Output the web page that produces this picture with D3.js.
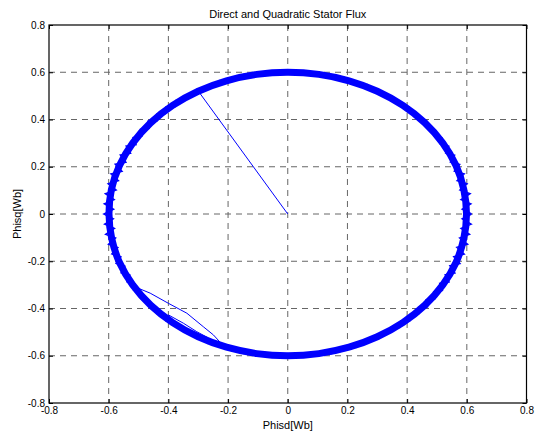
<!DOCTYPE html>
<html>
<head>
<meta charset="utf-8">
<script src="https://cdn.jsdelivr.net/npm/d3@7"></script>
<style>
  body { margin: 0; background: #fff; }
  text { font-family: "Liberation Sans", Arial, sans-serif; fill: #000; }
</style>
</head>
<body>
<div id="chart"></div>
<script>
// tick values and labels (both axes are the same)
var tickValues = [-0.8, -0.6, -0.4, -0.2, 0, 0.2, 0.4, 0.6, 0.8];
var tickLabels = ["-0.8", "-0.6", "-0.4", "-0.2", "0", "0.2", "0.4", "0.6", "0.8"];

// start of the flux: straight line from origin to the ring
var startLine = [[0, 0], [-0.295, 0.512]];

// mean flux ring, polar samples: angle (deg) and magnitude (Wb)
var baseAngle = [0, 10, 20, 30, 40, 50, 60, 70, 80, 90, 100, 110, 120, 130, 140, 150, 160, 170,
  180, 190, 200, 210, 220, 230, 240, 250, 260, 270, 280, 290, 300, 310, 320, 330, 340, 350];
var baseRadius = [0.599, 0.599, 0.600, 0.600, 0.600, 0.600, 0.600, 0.600, 0.600, 0.600, 0.600, 0.600, 0.600, 0.600, 0.600, 0.600, 0.600, 0.600,
  0.599, 0.599, 0.600, 0.600, 0.600, 0.600, 0.600, 0.600, 0.600, 0.600, 0.600, 0.600, 0.600, 0.600, 0.600, 0.600, 0.600, 0.599];

// hysteresis ripple of the flux, polar samples every 2 deg
var zigAngle = [0, 2, 4, 6, 8, 10, 12, 14, 16, 18, 20, 22, 24, 26, 28,
  30, 32, 34, 36, 38, 40, 42, 44, 46, 48, 50, 52, 54, 56, 58,
  60, 62, 64, 66, 68, 70, 72, 74, 76, 78, 80, 82, 84, 86, 88,
  90, 92, 94, 96, 98, 100, 102, 104, 106, 108, 110, 112, 114, 116, 118,
  120, 122, 124, 126, 128, 130, 132, 134, 136, 138, 140, 142, 144, 146, 148,
  150, 152, 154, 156, 158, 160, 162, 164, 166, 168, 170, 172, 174, 176, 178,
  180, 182, 184, 186, 188, 190, 192, 194, 196, 198, 200, 202, 204, 206, 208,
  210, 212, 214, 216, 218, 220, 222, 224, 226, 228, 230, 232, 234, 236, 238,
  240, 242, 244, 246, 248, 250, 252, 254, 256, 258, 260, 262, 264, 266, 268,
  270, 272, 274, 276, 278, 280, 282, 284, 286, 288, 290, 292, 294, 296, 298,
  300, 302, 304, 306, 308, 310, 312, 314, 316, 318, 320, 322, 324, 326, 328,
  330, 332, 334, 336, 338, 340, 342, 344, 346, 348, 350, 352, 354, 356, 358, 360];
var zigRadius = [0.616, 0.585, 0.615, 0.584, 0.617, 0.586, 0.614, 0.585, 0.615, 0.587, 0.613, 0.588, 0.612, 0.589, 0.611,
  0.591, 0.609, 0.592, 0.608, 0.591, 0.609, 0.592, 0.608, 0.593, 0.609, 0.592, 0.608, 0.591, 0.609, 0.592,
  0.608, 0.593, 0.609, 0.592, 0.608, 0.591, 0.609, 0.593, 0.608, 0.592, 0.609, 0.591, 0.608, 0.592, 0.609,
  0.591, 0.608, 0.592, 0.609, 0.593, 0.608, 0.591, 0.609, 0.592, 0.608, 0.593, 0.609, 0.592, 0.608, 0.591,
  0.609, 0.592, 0.608, 0.591, 0.609, 0.590, 0.610, 0.591, 0.609, 0.590, 0.611, 0.589, 0.610, 0.590, 0.611,
  0.587, 0.613, 0.586, 0.614, 0.585, 0.615, 0.584, 0.616, 0.585, 0.615, 0.584, 0.617, 0.585, 0.616, 0.584,
  0.616, 0.585, 0.615, 0.584, 0.616, 0.586, 0.614, 0.587, 0.613, 0.588, 0.612, 0.589, 0.611, 0.589, 0.610,
  0.591, 0.609, 0.592, 0.608, 0.593, 0.607, 0.592, 0.608, 0.593, 0.609, 0.592, 0.608, 0.591, 0.609, 0.592,
  0.608, 0.593, 0.609, 0.592, 0.608, 0.591, 0.609, 0.593, 0.608, 0.592, 0.609, 0.591, 0.608, 0.592, 0.609,
  0.591, 0.608, 0.592, 0.609, 0.593, 0.608, 0.591, 0.609, 0.592, 0.608, 0.593, 0.609, 0.592, 0.608, 0.591,
  0.609, 0.592, 0.608, 0.591, 0.609, 0.590, 0.610, 0.591, 0.609, 0.590, 0.611, 0.589, 0.610, 0.590, 0.611,
  0.588, 0.612, 0.587, 0.613, 0.586, 0.614, 0.585, 0.615, 0.584, 0.616, 0.585, 0.615, 0.584, 0.616, 0.585, 0.616];

// transient loops in the lower left
var transA = [[-0.528, -0.300], [-0.461, -0.335], [-0.400, -0.378], [-0.338, -0.420], [-0.283, -0.477], [-0.249, -0.512], [-0.225, -0.545]];
var transB = [[-0.528, -0.304], [-0.490, -0.352], [-0.450, -0.403]];
var transC = [[-0.400, -0.427], [-0.350, -0.462], [-0.305, -0.498], [-0.270, -0.522]];

var width = 535;
var height = 434;

var svg = d3.select("#chart")
  .append("svg")
  .attr("width", width)
  .attr("height", height);

var x = d3.scaleLinear().domain([-0.8, 0.8]).range([49, 526.5]);
var y = d3.scaleLinear().domain([-0.8, 0.8]).range([403, 25]);

//----- grid -----
var grid = svg.append("g")
  .attr("stroke", "#666")
  .attr("stroke-width", 1)
  .attr("stroke-dasharray", "6,5");

grid.selectAll(".gx")
  .data(tickValues.slice(1, -1))
  .enter().append("line")
  .attr("x1", function(d) { return x(d); })
  .attr("x2", function(d) { return x(d); })
  .attr("y1", y(0.8))
  .attr("y2", y(-0.8));

grid.selectAll(".gy")
  .data(tickValues.slice(1, -1))
  .enter().append("line")
  .attr("x1", x(-0.8))
  .attr("x2", x(0.8))
  .attr("y1", function(d) { return y(d); })
  .attr("y2", function(d) { return y(d); });

//----- data -----
var line = d3.line()
  .x(function(d) { return x(d[0]); })
  .y(function(d) { return y(d[1]); });

function polar(angles, radii) {
  return angles.map(function(a, i) {
    var t = a * Math.PI / 180;
    return [radii[i] * Math.cos(t), radii[i] * Math.sin(t)];
  });
}

// thick mean band
svg.append("path")
  .attr("d", line.curve(d3.curveCardinalClosed)(polar(baseAngle, baseRadius)))
  .attr("fill", "none")
  .attr("stroke", "#0000ff")
  .attr("stroke-width", 7);
line.curve(d3.curveLinear);

// ripple on top of it
svg.append("path")
  .attr("d", line(polar(zigAngle, zigRadius)))
  .attr("fill", "none")
  .attr("stroke", "#0000ff")
  .attr("stroke-width", 1.5);

[startLine, transA, transB, transC].forEach(function(p) {
  svg.append("path")
    .attr("d", line(p))
    .attr("fill", "none")
    .attr("stroke", "#0000ff")
    .attr("stroke-width", 1);
});

//----- axes (ticks inward like matlab) -----
function fmt(d) { return tickLabels[tickValues.indexOf(d)]; }

svg.append("g")
  .attr("transform", "translate(0," + y(-0.8) + ")")
  .call(d3.axisBottom(x).tickValues(tickValues).tickFormat(fmt).tickSize(-4).tickPadding(4));

svg.append("g")
  .attr("transform", "translate(" + x(-0.8) + ",0)")
  .call(d3.axisLeft(y).tickValues(tickValues).tickFormat(fmt).tickSize(-4).tickPadding(4));

svg.append("g")
  .attr("transform", "translate(0," + y(0.8) + ")")
  .call(d3.axisTop(x).tickValues(tickValues).tickFormat("").tickSize(-4));

svg.append("g")
  .attr("transform", "translate(" + x(0.8) + ",0)")
  .call(d3.axisRight(y).tickValues(tickValues).tickFormat("").tickSize(-4));

svg.selectAll(".domain").remove();
svg.selectAll(".tick text")
  .style("font-family", "Liberation Sans, Arial, sans-serif")
  .style("font-size", "10px")
  .attr("fill", "#000");
svg.selectAll(".tick line").attr("stroke", "#000");

// frame
svg.append("rect")
  .attr("x", x(-0.8))
  .attr("y", y(0.8))
  .attr("width", x(0.8) - x(-0.8))
  .attr("height", y(-0.8) - y(0.8))
  .attr("fill", "none")
  .attr("stroke", "#000")
  .attr("stroke-width", 1.2);

//----- labels -----
svg.append("text")
  .attr("x", x(0))
  .attr("y", 18)
  .attr("text-anchor", "middle")
  .style("font-size", "11px")
  .text("Direct and Quadratic Stator Flux");

svg.append("text")
  .attr("x", x(0))
  .attr("y", 429)
  .attr("text-anchor", "middle")
  .style("font-size", "11px")
  .text("Phisd[Wb]");

svg.append("text")
  .attr("transform", "translate(21," + y(0) + ") rotate(-90)")
  .attr("text-anchor", "middle")
  .style("font-size", "11px")
  .text("Phisq[Wb]");
</script>
</body>
</html>
